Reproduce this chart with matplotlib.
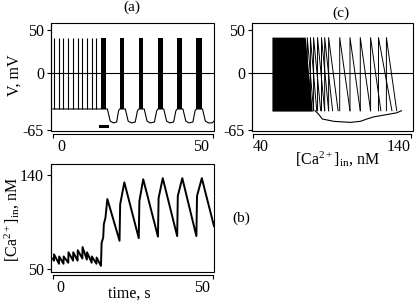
import numpy as np
import matplotlib
matplotlib.use('Agg')
import matplotlib.pyplot as plt
import matplotlib.transforms as mtransforms

plt.rcParams['font.family'] = ['Liberation Serif', 'DejaVu Serif']
plt.rcParams['mathtext.fontset'] = 'custom'
plt.rcParams['mathtext.rm'] = 'Liberation Serif'
plt.rcParams['mathtext.it'] = 'Liberation Serif:italic'
plt.rcParams['axes.unicode_minus'] = False
plt.rcParams['font.size'] = 11.5

# (a) membrane potential, mV vs time, s
spike_t = [0.3, 1.9, 3.3, 4.8, 6.3, 7.7, 9.2, 10.6, 12.1, 13.6]
burst_start = [15.0, 20.8, 26.8, 32.8, 38.8, 44.8]
burst_end = [16.7, 22.3, 28.2, 34.3, 40.3, 46.4]
v_rest = -41
v_peak = 41
vt = [0, 15.0,
      16.7, 17.0, 17.9, 18.9, 19.9, 20.5, 20.8,
      22.3, 22.6, 23.5, 24.5, 25.7, 26.4, 26.8,
      28.2, 28.5, 29.4, 30.4, 31.7, 32.4, 32.8,
      34.3, 34.6, 35.5, 36.5, 37.7, 38.4, 38.8,
      40.3, 40.6, 41.5, 42.5, 43.7, 44.4, 44.8,
      46.4, 46.7, 47.6, 48.6, 49.7, 50.3]
vv = [-41, -41,
      -41, -41, -55, -57, -56, -43, -41,
      -41, -41, -55, -57, -56, -43, -41,
      -41, -41, -55, -57, -56, -43, -41,
      -41, -41, -55, -57, -56, -43, -41,
      -41, -41, -55, -57, -56, -43, -41,
      -41, -41, -55, -57, -57, -55]
bar_t = [14.8, 16.8]
bar_v = -60

# (b) [Ca2+]in, nM vs time, s
ca_t = [0.0, 0.3, 0.35, 1.9, 1.95, 3.3, 3.35, 4.8, 4.85, 6.3, 6.35, 7.7, 7.75,
        9.2, 9.25, 10.6, 10.65, 12.1, 12.15, 13.6, 13.65, 15.0,
        15.2, 15.7, 15.9, 16.4, 17.0,
        20.8, 21.0, 22.3, 26.8, 27.0, 28.2, 32.8, 33.0, 34.3,
        38.8, 39.0, 40.4, 44.8, 45.0, 46.5, 50.3]
ca_v = [60, 58, 64, 55, 62, 55, 62, 56, 66, 58, 66, 58, 68,
        60, 71, 59, 66, 56, 62, 55, 61, 53,
        75, 80, 93, 99, 117,
        77, 112, 133, 79.5, 115, 136, 81, 118, 137,
        81.5, 120, 137, 81.5, 120, 137, 91]

# (c) phase plane, V vs [Ca2+]in
block_ca = [52.5, 52.5, 73.5, 78]
block_v = [-44, 41, 41, -44]
stroke_up = [74.5, 76.5, 78.5, 81, 83.5, 85.5, 88, 95, 101.5, 108, 114.5, 119.5, 124.5]
stroke_dn = [78.5, 80.5, 83, 85.5, 88, 90.5, 94, 101.5, 108, 114.5, 121, 128, 131]
stroke_low = -43
loop_ca = [79.5, 81.8, 84, 91.3, 101.7, 108, 112.2, 116.4, 122.7, 131, 134]
loop_v = [-43, -47.3, -52.5, -55.2, -56.4, -55.2, -52.5, -50.1, -48.1, -45.4, -43]

W, H = 419, 308
fig = plt.figure(figsize=(W / 100, H / 100), dpi=100)


def box(x0, y0, x1, y1):
    return [x0 / W, 1 - y1 / H, (x1 - x0) / W, (y1 - y0) / H]


def style(ax, xt, yt, shift=0):
    ax.spines['top'].set_visible(False)
    ax.spines['right'].set_visible(False)
    ax.patch.set_edgecolor('k')
    ax.patch.set_linewidth(0.8)
    ax.spines['bottom'].set_position(('outward', 2))
    ax.spines['bottom'].set_bounds(xt[0], xt[-1])
    for s in ['left', 'bottom']:
        ax.spines[s].set_linewidth(0.8)
    ax.set_xticks(xt)
    ax.set_yticks(yt)
    ax.tick_params(length=3, width=0.8, pad=2, labelsize=11.5)
    ax.tick_params(axis='x', pad=1)
    lab = ax.get_xticklabels()
    lab[0].set_horizontalalignment('left')
    lab[-1].set_horizontalalignment('right')
    if shift:
        d = shift / 100
        lab[0].set_transform(lab[0].get_transform() +
                             mtransforms.ScaledTranslation(d, 0, fig.dpi_scale_trans))
        lab[-1].set_transform(lab[-1].get_transform() +
                              mtransforms.ScaledTranslation(-d, 0, fig.dpi_scale_trans))


axa = fig.add_axes(box(51, 23, 214, 131))
axa.plot(vt, vv, color='k', lw=0.8)
axa.vlines(spike_t, v_rest, v_peak, color='k', lw=0.8)
for s, e in zip(burst_start, burst_end):
    axa.fill_between([s, e], v_rest, v_peak, color='k', lw=0)
axa.axhline(0, color='k', lw=0.8)
axa.plot(bar_t, [bar_v, bar_v], color='k', lw=2.2)
axa.set_xlim(-0.6, 50.3)
axa.set_ylim(-66.3, 57.8)
style(axa, [0, 50], [-65, 0, 50], shift=4)

axb = fig.add_axes(box(51, 164, 214, 272))
axb.plot(ca_t, ca_v, color='k', lw=1.4)
axb.set_xlim(-0.6, 50.3)
axb.set_ylim(47.1, 150.6)
style(axb, [0, 50], [50, 140], shift=3)

axc = fig.add_axes(box(252, 23, 413, 131))
axc.fill(block_ca, block_v, color='k', lw=0)
for u, d in zip(stroke_up, stroke_dn):
    axc.plot([u, u, d], [stroke_low, v_peak, stroke_low], color='k', lw=0.7)
axc.plot(loop_ca, loop_v, color='k', lw=0.8)
axc.axhline(0, color='k', lw=0.8)
axc.set_xlim(39.6, 141.3)
axc.set_ylim(-66.3, 57.8)
style(axc, [40, 140], [-65, 0, 50])


def put(x, y, s, **kw):
    fig.text(x / W, 1 - y / H, s, ha='center', va='center', **kw)


put(131.7, 7.5, '(a)', fontsize=11)
put(341, 13, '(c)', fontsize=11)
put(241.5, 218, '(b)', fontsize=11)
put(15, 75, 'V, mV', rotation=90, fontsize=11.5)
put(12, 219, r'[Ca$^{2+}$]$_{\rm in}$, nM', rotation=90, fontsize=11.5)
put(129, 293.5, 'time, s', fontsize=11.5)
put(337.5, 159, r'[Ca$^{2+}$]$_{\rm in}$, nM', fontsize=11.5)

fig.savefig('out.png', dpi=100)
